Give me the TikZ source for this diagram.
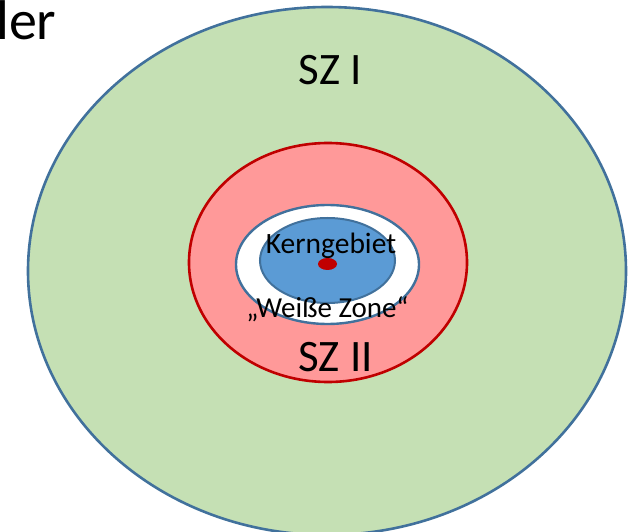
\documentclass[tikz,border=0pt]{standalone}
\usepackage{fontspec}
\setmainfont{Carlito}
\usetikzlibrary{shapes.geometric}
\definecolor{zgreen}{RGB}{197,224,180}
\definecolor{zred}{RGB}{255,153,153}
\definecolor{zdarkred}{RGB}{192,0,0}
\definecolor{zblue}{RGB}{91,155,213}
\definecolor{zline}{RGB}{65,113,156}
\tikzset{
  zone/.style={ellipse, inner sep=0pt, outer sep=0pt},
  lbl/.style={inner sep=0pt, anchor=base, text=black},
}
\begin{document}
\begin{tikzpicture}[x=1pt,y=-1pt]
\useasboundingbox (0,0) rectangle (633,532);
\node[zone, fill=zgreen, draw=zline, line width=2.6pt, minimum width=598pt, minimum height=528pt] (sz1) at (327,271) {};
\node[zone, fill=zred, draw=zdarkred, line width=2.6pt, minimum width=278pt, minimum height=239pt] (sz2) at (328,262.5) {};
\node[zone, fill=white, draw=zline, line width=2.4pt, minimum width=183pt, minimum height=119pt] (wz) at (327.5,264.5) {};
\node[zone, fill=zblue, draw=zline, line width=2pt, minimum width=135pt, minimum height=85pt] (kg) at (327.5,260.5) {};
\node[zone, fill=zdarkred, minimum width=19pt, minimum height=12pt] (dot) at (327.5,264) {};
\node[lbl, anchor=base west, font=\fontsize{56}{60}\selectfont] (ler) at (-4,40) {ler};
\node[lbl, font=\fontsize{45}{50}\selectfont] (t1) at (330,85) {SZ I};
\node[lbl, font=\fontsize{45}{50}\selectfont] (t2) at (335.5,372) {SZ II};
\node[lbl, font=\fontsize{29.5}{32}\selectfont] (t3) at (331,254) {Kerngebiet};
\node[lbl, font=\fontsize{29}{32}\selectfont] (t4) at (327.5,318) {„Weiße Zone“};
\end{tikzpicture}
\end{document}
